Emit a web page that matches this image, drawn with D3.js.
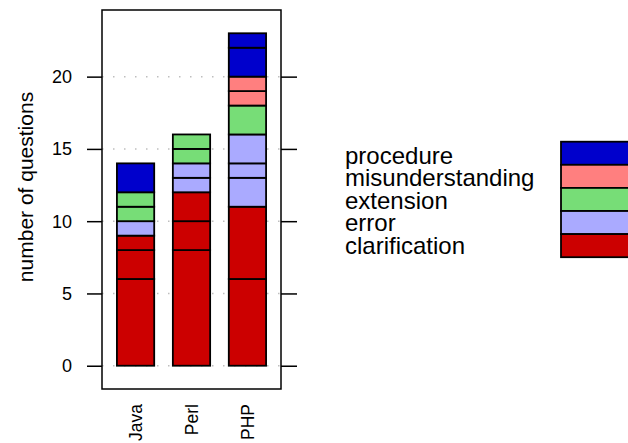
<!DOCTYPE html>
<html>
<head>
<meta charset="utf-8">
<script src="https://cdn.jsdelivr.net/npm/d3@7"></script>
<style>
  body { margin: 0; background: white; }
  text { font-family: "Liberation Sans", Arial, sans-serif; fill: black; }
</style>
</head>
<body>
<div id="chart"></div>
<script>
// categories on the x axis
var languages = ["Java", "Perl", "PHP"];
// question types, bottom of the stack first
var categories = ["clarification", "error", "extension", "misunderstanding", "procedure"];
var colors = ["#CC0000", "#AAAAFF", "#77DD77", "#FF7F7F", "#0000CC"];

// counts per sub-block, one list per language (Java, Perl, PHP)
var clarification    = [[6, 2, 1], [8, 2, 2], [6, 5]];
var error            = [[1], [1, 1], [2, 1, 2]];
var extension        = [[1, 1], [1, 1], [2]];
var misunderstanding = [[], [], [1, 1]];
var procedure        = [[2], [], [2, 1]];

var yTicks = [0, 5, 10, 15, 20];

var width = 628, height = 443;
// panel box
var panel = {left: 102, right: 281, top: 10, bottom: 389};

var svg = d3.select("#chart")
  .append("svg")
    .attr("width", width)
    .attr("height", height);

var x = d3.scaleBand()
    .domain(languages)
    .range([panel.left, panel.right])
    .paddingInner(1 / 3)
    .paddingOuter(0.8 / 3);

var y = d3.scaleLinear()
    .domain([-1.61, 24.61])
    .range([panel.bottom, panel.top]);

// build the stacked blocks
var blocks = [];
var perCat = [clarification, error, extension, misunderstanding, procedure];
languages.forEach(function(lang, i) {
  var total = 0;
  categories.forEach(function(cat, j) {
    perCat[j][i].forEach(function(n) {
      blocks.push({lang: lang, cat: j, y0: total, y1: total + n});
      total += n;
    });
  });
});

// dotted reference lines
svg.append("g")
  .selectAll("line")
  .data(yTicks)
  .enter().append("line")
    .attr("x1", panel.left)
    .attr("x2", panel.right)
    .attr("y1", function(d) { return y(d); })
    .attr("y2", function(d) { return y(d); })
    .attr("stroke", "#BEBEBE")
    .attr("stroke-width", 1.5)
    .attr("stroke-dasharray", "1.5,9.5");

// bars
svg.append("g")
  .selectAll("rect")
  .data(blocks)
  .enter().append("rect")
    .attr("x", function(d) { return x(d.lang); })
    .attr("y", function(d) { return y(d.y1); })
    .attr("width", x.bandwidth())
    .attr("height", function(d) { return y(d.y0) - y(d.y1); })
    .attr("fill", function(d) { return colors[d.cat]; })
    .attr("stroke", "black")
    .attr("stroke-width", 1.8);

// panel border
svg.append("rect")
  .attr("x", panel.left)
  .attr("y", panel.top)
  .attr("width", panel.right - panel.left)
  .attr("height", panel.bottom - panel.top)
  .attr("fill", "none")
  .attr("stroke", "black")
  .attr("stroke-width", 1.5);

// left axis with labels
var left = svg.append("g")
  .attr("transform", "translate(" + panel.left + ",0)")
  .call(d3.axisLeft(y).tickValues(yTicks).tickSize(15).tickPadding(0).tickFormat(""));
left.select(".domain").remove();
left.selectAll("line").attr("stroke-width", 1.5);

svg.append("g")
  .selectAll("text")
  .data(yTicks)
  .enter().append("text")
    .attr("x", 72)
    .attr("y", function(d) { return y(d); })
    .attr("dy", "0.36em")
    .style("text-anchor", "end")
    .style("font-size", "18px")
    .text(function(d) { return d; });

// right ticks
var right = svg.append("g")
  .attr("transform", "translate(" + panel.right + ",0)")
  .call(d3.axisRight(y).tickValues(yTicks).tickSize(16).tickFormat(""));
right.select(".domain").remove();
right.selectAll("line").attr("stroke-width", 1.5);

// x labels, rotated
svg.append("g")
  .selectAll("text")
  .data(languages)
  .enter().append("text")
    .attr("transform", function(d) {
      return "translate(" + (x(d) + x.bandwidth() / 2) + ",404) rotate(-90)";
    })
    .attr("dy", "0.36em")
    .style("text-anchor", "end")
    .style("font-size", "17.5px")
    .text(function(d) { return d; });

// y axis title
svg.append("text")
  .attr("transform", "translate(33,187) rotate(-90)")
  .style("text-anchor", "middle")
  .style("font-size", "21px")
  .text("number of questions");

// legend, top row is the top of the stack
var legendCats = categories.slice().reverse();
var legendCols = colors.slice().reverse();

svg.append("g")
  .selectAll("text")
  .data(legendCats)
  .enter().append("text")
    .attr("x", 345)
    .attr("y", function(d, i) { return 163.5 + i * 22.5; })
    .style("font-size", "24px")
    .text(function(d) { return d; });

svg.append("g")
  .selectAll("rect")
  .data(legendCols)
  .enter().append("rect")
    .attr("x", 561)
    .attr("y", function(d, i) { return 141.7 + i * 23.1; })
    .attr("width", 80)
    .attr("height", 23.1)
    .attr("fill", function(d) { return d; })
    .attr("stroke", "black")
    .attr("stroke-width", 1.8);
</script>
</body>
</html>
